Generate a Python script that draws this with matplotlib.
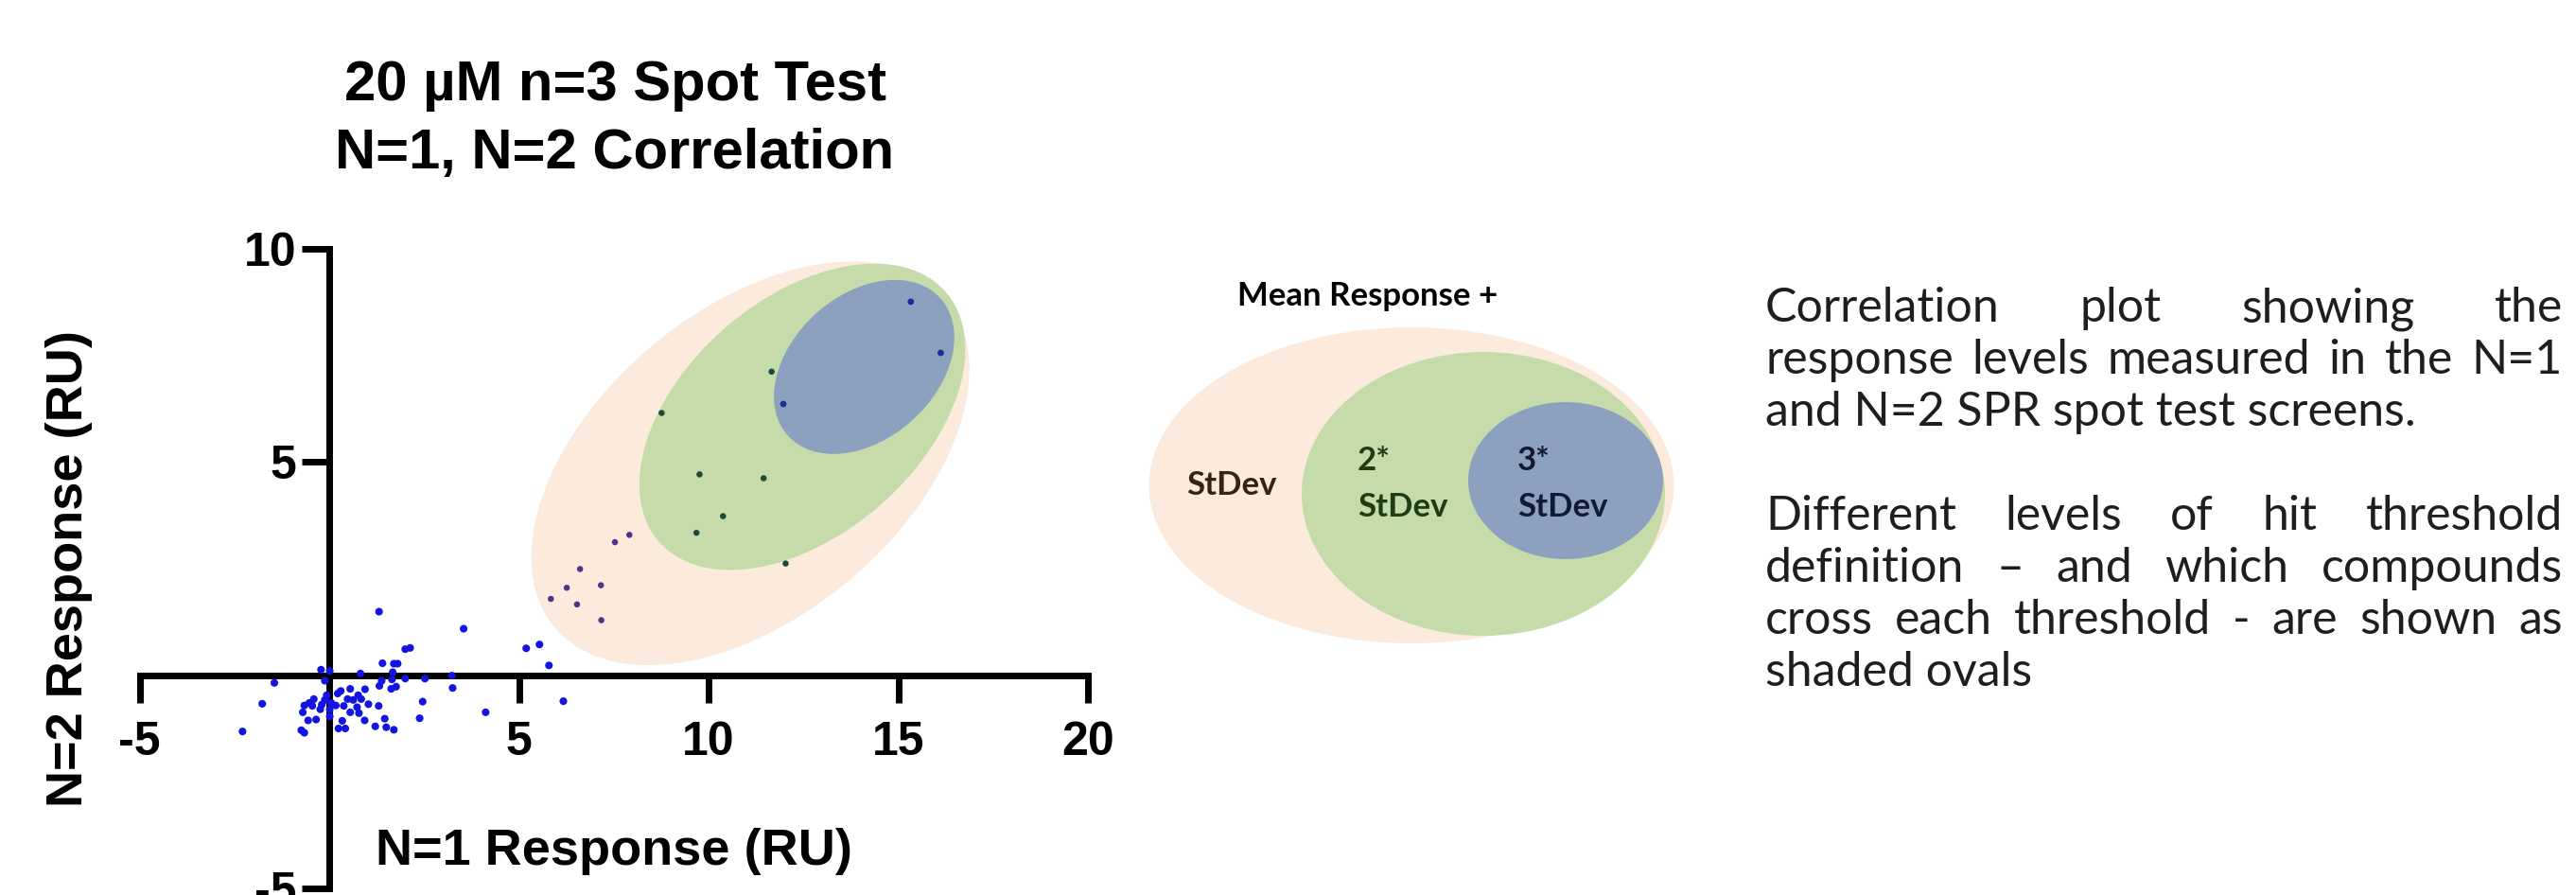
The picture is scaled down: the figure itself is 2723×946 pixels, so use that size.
import matplotlib.pyplot as plt
from matplotlib.patches import Ellipse
from matplotlib.transforms import ScaledTranslation


# ==================================================
# data
# ==================================================

# compounds below the mean + 1*StDev threshold
base_x = [1.31, 3.54, 5.19, 5.54, 5.79, 6.17, 2.00, 2.13, 1.40, 1.70,
          1.80, 1.67, 2.00, 2.52, 3.23, 3.25, 2.46, 2.38, 4.12, 0.82,
          -0.22, 0.01, -1.45, -1.77, -2.29, 1.32, 1.38, 1.63, 1.76, 0.30,
          0.55, 0.94, 0.76, 0.48, 0.63, 0.84, 1.03, 1.30, 0.73, 0.55,
          0.78, 0.93, 0.34, 0.24, 0.42, 1.21, 1.46, 1.50, 1.70, -0.07,
          -0.12, 0.05, 0.17, 0.01, 0.01, -0.24, -0.41, -0.53, -0.66, -0.70,
          -0.56, -0.35, -0.74, -0.66, -0.12, 0.38, 0.22, -0.45, -0.20, 1.65]
base_y = [1.49, 1.09, 0.63, 0.72, 0.23, -0.61, 0.61, 0.64, 0.28, 0.27,
          0.27, 0.07, -0.08, -0.08, -0.01, -0.30, -0.62, -1.01, -0.87, 0.04,
          0.13, 0.10, -0.18, -0.67, -1.32, -0.25, -0.13, -0.32, -0.27, -0.37,
          -0.32, -0.33, -0.47, -0.56, -0.58, -0.56, -0.68, -0.72, -0.75, -0.87,
          -0.89, -1.06, -1.07, -1.25, -1.25, -1.20, -1.02, -1.22, -1.28, -0.47,
          -0.58, -0.65, -0.71, -0.80, -0.97, -0.80, -0.56, -0.65, -0.71, -0.87,
          -1.06, -1.04, -1.29, -1.35, -0.13, -0.72, -0.43, -0.72, -0.69, -0.10]

# above mean + 1*StDev
sd1_x = [7.91, 7.53, 6.61, 6.26, 7.16, 5.84, 6.53, 7.17]
sd1_y = [3.29, 3.12, 2.49, 2.05, 2.11, 1.79, 1.66, 1.29]

# above mean + 2*StDev
sd2_x = [11.66, 8.76, 9.76, 11.45, 10.38, 9.68, 12.03]
sd2_y = [7.12, 6.15, 4.71, 4.62, 3.73, 3.34, 2.62]

# above mean + 3*StDev
sd3_x = [15.33, 16.12, 11.97]
sd3_y = [8.76, 7.56, 6.36]

point_colors = ["#1414e0", "#5a2c8c", "#1f4a3a", "#1c2f98"]

# threshold ovals: centre in RU, size in inches, tilt in degrees
oval_cx = [11.10, 12.47, 14.10]
oval_cy = [4.97, 6.06, 7.23]
oval_w = [5.40, 4.02, 2.17]
oval_h = [3.24, 2.49, 1.52]
oval_angle = [40, 41, 42]
oval_colors = ["#fcebdd", "#c5dcaa", "#8ea0bf"]

xticks = [-5, 5, 10, 15, 20]
yticks = [-5, 5, 10]

# key diagram (pixel layout of the key panel)
key_cx = [1492, 1568, 1655]
key_cy = [513, 522, 508]
key_w = [555, 384, 206]
key_h = [334, 300, 166]

text_lines = [
    ("Correlation plot showing the", True),
    ("response levels measured in the N=1", True),
    ("and N=2 SPR spot test screens.", False),
    (None, False),
    ("Different levels of hit threshold", True),
    ("definition \u2013 and which compounds", True),
    ("cross each threshold - are shown as", True),
    ("shaded ovals", False),
]


# ==================================================
# figure
# ==================================================

W, H = 2723, 946
DPI = 100

plt.rcParams["font.family"] = ["Liberation Sans", "DejaVu Sans"]

fig = plt.figure(figsize=(W / DPI, H / DPI), dpi=DPI)


def fx(px):
    return px / W


def fy(py):
    return 1 - py / H


# ==================================================
# scatter
# ==================================================

ax = fig.add_axes([fx(147.7), fy(939), fx(1150) - fx(147.7), fy(263) - fy(939)])

ax.set_xlim(-5, 20)
ax.set_ylim(-5, 10)

for cx, cy, w, h, ang, col in zip(oval_cx, oval_cy, oval_w, oval_h,
                                  oval_angle, oval_colors):
    e = Ellipse(
        (0, 0), w, h, angle=ang,
        facecolor=col, edgecolor="none",
        transform=fig.dpi_scale_trans + ScaledTranslation(cx, cy, ax.transData),
        zorder=1
    )
    ax.add_patch(e)

groups = [(base_x, base_y, 34), (sd1_x, sd1_y, 22),
          (sd2_x, sd2_y, 22), (sd3_x, sd3_y, 24)]

for (gx, gy, s), col in zip(groups, point_colors):
    ax.scatter(gx, gy, s=s, color=col, edgecolors="none", zorder=3)

for side in ["top", "right"]:
    ax.spines[side].set_visible(False)

for side in ["left", "bottom"]:
    ax.spines[side].set_position(("data", 0))
    ax.spines[side].set_linewidth(5.0)
    ax.spines[side].set_capstyle("projecting")
    ax.spines[side].set_zorder(2)

ax.set_xticks(xticks)
ax.set_yticks(yticks)
ax.set_xticklabels([str(t) for t in xticks], fontweight="bold")
ax.set_yticklabels([str(t) for t in yticks], fontweight="bold")

ax.tick_params(axis="both", direction="out", length=21, width=5.0,
               labelsize=36)
ax.tick_params(axis="x", pad=14)
ax.tick_params(axis="y", pad=4)

ax.set_xlabel("N=1 Response (RU)", fontsize=39, fontweight="bold")
ax.xaxis.set_label_coords(0.5, 0.058)
ax.xaxis.label.set_va("center")

ax.set_ylabel("N=2 Response (RU)", fontsize=39, fontweight="bold")
ax.yaxis.set_label_coords(-0.0745, 0.5)
ax.yaxis.label.set_va("center")

fig.text(fx(650), fy(106), "20 \u00b5M n=3 Spot Test", fontsize=43,
         fontweight="bold", ha="center", va="baseline")
fig.text(fx(650), fy(178), "N=1, N=2 Correlation", fontsize=43,
         fontweight="bold", ha="center", va="baseline")


# ==================================================
# key
# ==================================================

kax = fig.add_axes([fx(1200), fy(700), fx(600), fy(330) - fy(700)])
kax.set_xlim(1200, 1800)
kax.set_ylim(700, 330)
kax.axis("off")

for cx, cy, w, h, col in zip(key_cx, key_cy, key_w, key_h, oval_colors):
    kax.add_patch(Ellipse((cx, cy), w, h, facecolor=col, edgecolor="none"))

kfont = dict(family=["Lato", "DejaVu Sans"], fontweight="bold", fontsize=25)

kax.text(1446, 313, "Mean Response +", ha="center", va="center",
         color="black", clip_on=False, **kfont)
kax.text(1302, 513, "StDev", ha="center", va="center", color="#3a2212", **kfont)
kax.text(1435, 487, "2*", ha="left", va="center", color="#1e3d14", **kfont)
kax.text(1435, 536, "StDev", ha="left", va="center", color="#1e3d14", **kfont)
kax.text(1604, 487, "3*", ha="left", va="center", color="#111a33", **kfont)
kax.text(1604, 536, "StDev", ha="left", va="center", color="#111a33", **kfont)


# ==================================================
# justified description
# ==================================================

x_left, x_right = 1866, 2709
y_first, step = 340, 55

tfont = dict(family=["Lato", "DejaVu Sans"], fontweight="normal",
             fontsize=36, color="#1e1e1e")

renderer = fig.canvas.get_renderer()

for i, (line, justify) in enumerate(text_lines):
    if line is None:
        continue
    y = y_first + i * step
    if not justify:
        fig.text(fx(x_left), fy(y), line, ha="left", va="baseline", **tfont)
        continue
    words = line.split(" ")
    objs = [fig.text(0, fy(y), w, ha="left", va="baseline", **tfont)
            for w in words]
    widths = [o.get_window_extent(renderer).width for o in objs]
    gap = (x_right - x_left - sum(widths)) / (len(words) - 1)
    pos = x_left
    for o, wd in zip(objs, widths):
        o.set_x(fx(pos))
        pos += wd + gap


fig.savefig("out.png", dpi=DPI)
plt.close()
